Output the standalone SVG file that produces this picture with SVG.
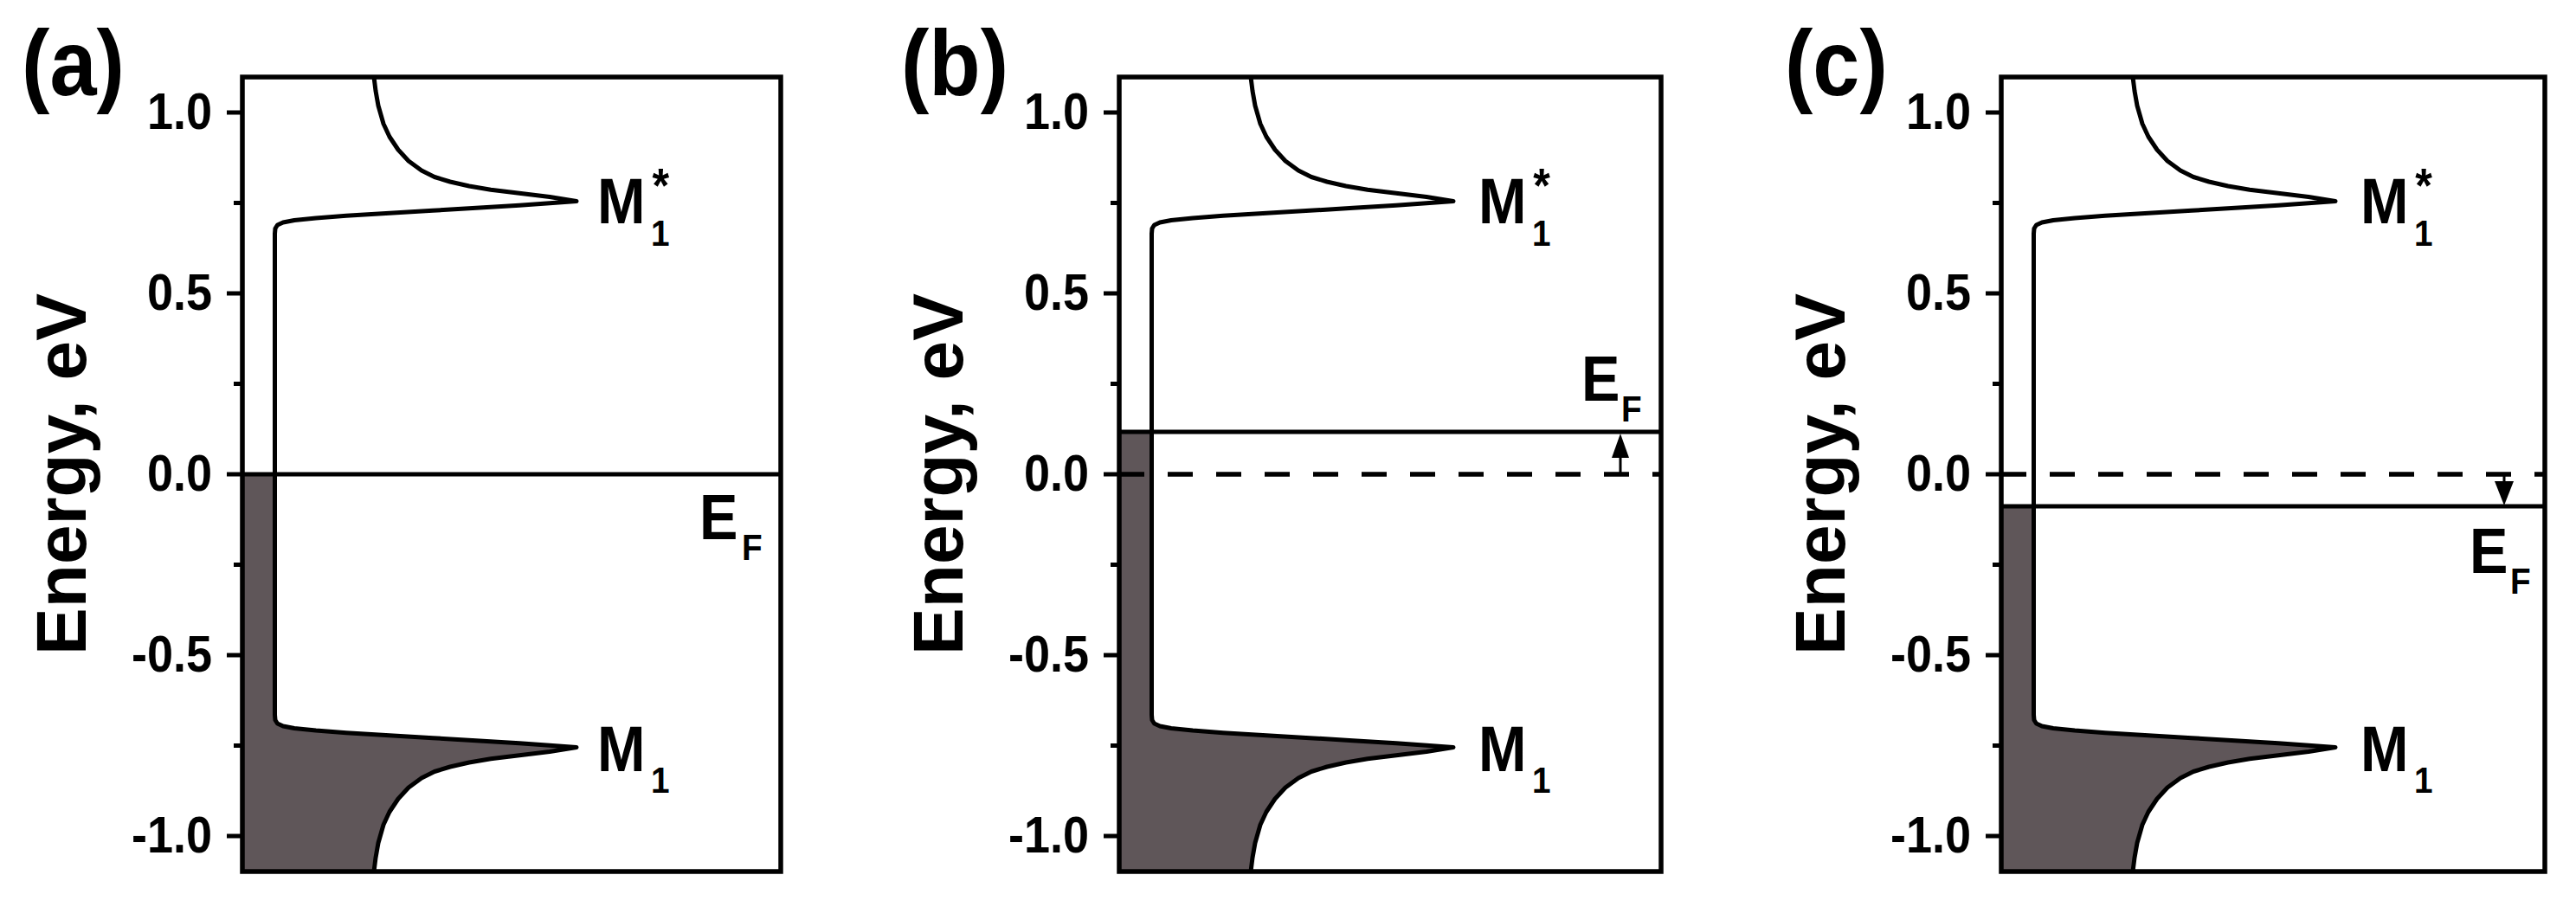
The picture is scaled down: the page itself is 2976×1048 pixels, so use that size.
<svg xmlns="http://www.w3.org/2000/svg" xmlns:xlink="http://www.w3.org/1999/xlink" width="2976" height="1048" viewBox="0 0 2976 1048">
<style>
.frame{fill:none;stroke:#000;stroke-width:5.5}
.tick{stroke:#000;stroke-width:5}
.curve{fill:none;stroke:#000;stroke-width:5;stroke-linejoin:round}
.dosfill{fill:#5f5659}
.ef{stroke:#000;stroke-width:5}
.dash{stroke:#000;stroke-width:5.5;stroke-dasharray:29 27}
text{font-family:"Liberation Sans",Arial,Helvetica,sans-serif;font-weight:bold;fill:#000}
.tl{font-size:60px;text-anchor:end}
.ax{font-size:82px;text-anchor:middle}
.pl{font-size:108px}
.lb{font-size:74px}
.sub{font-size:43px}
.ast{font-size:56px}
.arrowhead{fill:#000}
.stem{stroke:#000;stroke-width:3}
</style>
<defs>
<path id="dos" class="curve" d="M152,89 L154,105 L157,122 L163,143 L170,158 L180,173 L192,186 L207,197 L222,204.5 L240,210 L262,215 L287,219.3 L320,223.3 L355,227.5 L386,232.5 L355,234.8 L320,237.3 L270,240.3 L220,243.3 L170,246.3 L120,249.3 L85,252 L60,254.5 L47,257 L40.5,260 L38,264 L37.5,270 L37.5,826 L38,832 L40.5,836 L47,839 L60,841.5 L85,844 L120,846.7 L170,849.7 L220,852.7 L270,855.7 L320,858.7 L355,861.2 L386,863.5 L355,868.5 L320,872.7 L287,876.7 L262,881 L240,886 L222,891.5 L207,899 L192,910 L180,923 L170,938 L163,953 L157,974 L154,991 L152,1007"/>
<g id="ticks">
<line class="tick" x1="-18" y1="130" x2="0" y2="130"/>
<line class="tick" x1="-10" y1="234.5" x2="0" y2="234.5"/>
<line class="tick" x1="-18" y1="339" x2="0" y2="339"/>
<line class="tick" x1="-10" y1="443.5" x2="0" y2="443.5"/>
<line class="tick" x1="-18" y1="548" x2="0" y2="548"/>
<line class="tick" x1="-10" y1="652.5" x2="0" y2="652.5"/>
<line class="tick" x1="-18" y1="757" x2="0" y2="757"/>
<line class="tick" x1="-10" y1="861.5" x2="0" y2="861.5"/>
<line class="tick" x1="-18" y1="966" x2="0" y2="966"/>
</g>
<g id="ticklabels">
<g transform="scale(0.9 1)">
<text class="tl" x="-38.9" y="149">1.0</text>
<text class="tl" x="-38.9" y="358">0.5</text>
<text class="tl" x="-38.9" y="567">0.0</text>
<text class="tl" x="-38.9" y="776">-0.5</text>
<text class="tl" x="-38.9" y="985">-1.0</text>
</g>
<text class="ax" transform="translate(-181,548) rotate(-90)">Energy, eV</text>
</g>
</defs>

<g id="panel-a" transform="translate(280,0)">
<path class="dosfill" d="M0,548 H37.5 V826 L38,832 L40.5,836 L47,839 L60,841.5 L85,844 L120,846.7 L170,849.7 L220,852.7 L270,855.7 L320,858.7 L355,861.2 L386,863.5 L355,868.5 L320,872.7 L287,876.7 L262,881 L240,886 L222,891.5 L207,899 L192,910 L180,923 L170,938 L163,953 L157,974 L154,991 L152,1007 H0 Z"/>
<use xlink:href="#dos" href="#dos"/>
<line class="ef" x1="0" y1="548" x2="622" y2="548"/>
<rect class="frame" x="0" y="89" width="622" height="918"/>
<use xlink:href="#ticks" href="#ticks"/>
<use xlink:href="#ticklabels" href="#ticklabels"/>
<g transform="scale(0.9 1)">
<text class="pl" x="-283.3" y="110">(a)</text>
<text class="lb" x="455.6" y="258">M<tspan class="ast" x="526" y="233">*</tspan><tspan class="sub" x="524.4" y="284">1</tspan></text>
<text class="lb" x="455.6" y="891">M<tspan class="sub" x="524.4" y="916">1</tspan></text>
<text class="lb" x="586.7" y="623">E<tspan class="sub" x="641.1" y="647">F</tspan></text>
</g>
</g>

<g id="panel-b" transform="translate(1293,0)">
<path class="dosfill" d="M0,499 H37.5 V826 L38,832 L40.5,836 L47,839 L60,841.5 L85,844 L120,846.7 L170,849.7 L220,852.7 L270,855.7 L320,858.7 L355,861.2 L386,863.5 L355,868.5 L320,872.7 L287,876.7 L262,881 L240,886 L222,891.5 L207,899 L192,910 L180,923 L170,938 L163,953 L157,974 L154,991 L152,1007 H0 Z"/>
<use xlink:href="#dos" href="#dos"/>
<line class="dash" x1="0" y1="548" x2="626" y2="548"/>
<line class="ef" x1="0" y1="499" x2="626" y2="499"/>
<rect class="frame" x="0" y="89" width="626" height="918"/>
<use xlink:href="#ticks" href="#ticks"/>
<use xlink:href="#ticklabels" href="#ticklabels"/>
<g transform="scale(0.9 1)">
<text class="pl" x="-280" y="110">(b)</text>
<text class="lb" x="461" y="258">M<tspan class="ast" x="531.5" y="233">*</tspan><tspan class="sub" x="530" y="284">1</tspan></text>
<text class="lb" x="461" y="891">M<tspan class="sub" x="530" y="916">1</tspan></text>
<text class="lb" x="593.3" y="463">E<tspan class="sub" x="644.4" y="487">F</tspan></text>
</g>
</g>

<g id="panel-c" transform="translate(2312,0)">
<path class="dosfill" d="M0,585 H37.5 V826 L38,832 L40.5,836 L47,839 L60,841.5 L85,844 L120,846.7 L170,849.7 L220,852.7 L270,855.7 L320,858.7 L355,861.2 L386,863.5 L355,868.5 L320,872.7 L287,876.7 L262,881 L240,886 L222,891.5 L207,899 L192,910 L180,923 L170,938 L163,953 L157,974 L154,991 L152,1007 H0 Z"/>
<use xlink:href="#dos" href="#dos"/>
<line class="dash" x1="0" y1="548" x2="628" y2="548"/>
<line class="ef" x1="0" y1="585" x2="628" y2="585"/>
<rect class="frame" x="0" y="89" width="628" height="918"/>
<use xlink:href="#ticks" href="#ticks"/>
<use xlink:href="#ticklabels" href="#ticklabels"/>
<g transform="scale(0.9 1)">
<text class="pl" x="-277.8" y="110">(c)</text>
<text class="lb" x="461" y="258">M<tspan class="ast" x="531.5" y="233">*</tspan><tspan class="sub" x="530" y="284">1</tspan></text>
<text class="lb" x="461" y="891">M<tspan class="sub" x="530" y="916">1</tspan></text>
<text class="lb" x="601.1" y="662">E<tspan class="sub" x="653.3" y="686">F</tspan></text>
</g>
</g>

<g id="connectors">
<line class="stem" x1="1872" y1="548" x2="1872" y2="528"/>
<polygon class="arrowhead" points="1872,501 1862,529 1882,529"/>
<line class="stem" x1="2893" y1="548" x2="2893" y2="557"/>
<polygon class="arrowhead" points="2893,584 2882,556 2904,556"/>
</g>
</svg>
